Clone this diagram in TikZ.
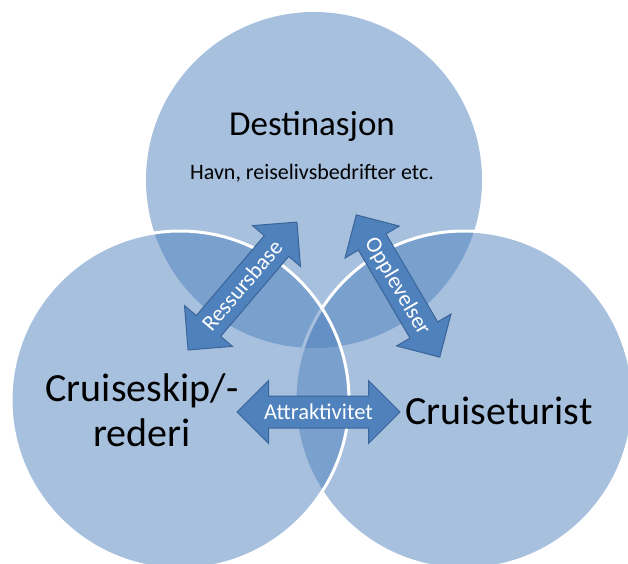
\documentclass[tikz,border=0pt]{standalone}
\usepackage{fontspec}
\setmainfont{Carlito}
\usetikzlibrary{shapes.arrows}
\definecolor{vennBlue}{HTML}{4F81BD}
\definecolor{vennEdge}{HTML}{3A6598}

\begin{document}
\begin{tikzpicture}[x=1pt, y=-1pt,
    ring/.style={fill=vennBlue, fill opacity=0.5},
    rim/.style={draw=white, line width=3pt},
    link/.style={double arrow, double arrow head extend=15.5pt, double arrow tip angle=90,
        fill=vennBlue, draw=vennEdge, line width=1pt, inner xsep=0pt, inner ysep=0pt,
        text height=22.5pt, text depth=8.5pt, text=white, font=\fontsize{22.5}{27}\selectfont},
    big/.style={font=\fontsize{40}{45}\selectfont, align=center},
]
    \useasboundingbox (0,0) rectangle (628,563);
    \clip (0,0) rectangle (628,563);

    % Circles
    \path[ring] (314,180) circle[radius=168pt];
    \path[ring, rim] (464,400) circle[radius=169pt];
    \path[ring, rim] (180,400) circle[radius=169pt];

    % Arrows
    \node[link, minimum height=168pt, rotate=49.6] (ressurs) at (242.5,286) {\makebox[0pt]{Ressursbase}};
    \node[link, minimum height=165pt, rotate=-59.6] (opplev) at (398,286) {\makebox[0pt]{Opplevelser}};
    \node[link, minimum height=163pt] (attrakt) at (318.5,412) {\makebox[0pt]{Attraktivitet}};

    % Labels
    \node[anchor=base, font=\fontsize{35}{42}\selectfont] (dest) at (312,135.5) {Destinasjon};
    \node[anchor=base, font=\fontsize{22}{26}\selectfont] (havn) at (312,179) {Havn, reiselivsbedrifter etc.};
    \node[big] (rederi) at (142,410) {Cruiseskip/-\\rederi};
    \node[big, anchor=base] (turist) at (499,424) {Cruiseturist};
\end{tikzpicture}
\end{document}
